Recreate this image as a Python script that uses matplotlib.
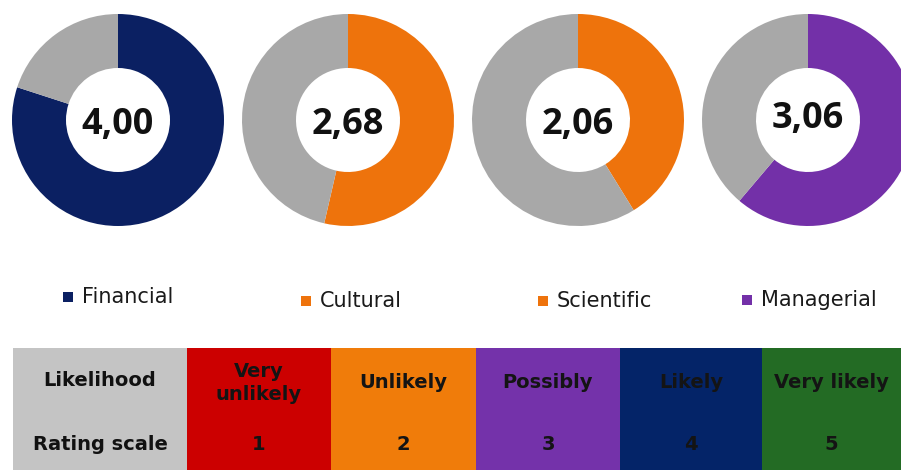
import matplotlib.pyplot as plt
from matplotlib.patches import Rectangle

# datos
categorias = ['Financial', 'Cultural', 'Scientific', 'Managerial']
puntuaciones = [4.00, 2.68, 2.06, 3.06]
escala_max = 5
colores = ['#0B2062', '#EE730C', '#EE730C', '#7330A8']
gris = '#A8A8A8'

likelihood = ['Very\nunlikely', 'Unlikely', 'Possibly', 'Likely', 'Very likely']
rating = [1, 2, 3, 4, 5]
colores_tabla = ['#CC0000', '#F07C0A', '#7432AA', '#042468', '#236B24']

W, H = 901, 470
fig = plt.figure(figsize=(W / 100, H / 100), dpi=100)
ax = fig.add_axes([0, 0, 1, 1])

# donuts
centros_x = [118, 348, 578, 808]
centros_txt = [125, 125, 125, 119]
for cx, ty, v, c in zip(centros_x, centros_txt, puntuaciones, colores):
    ax.pie([v, escala_max - v], colors=[c, gris], startangle=90, counterclock=False,
           radius=106, center=(cx, H - 120),
           wedgeprops=dict(width=54, edgecolor='none', linewidth=0))
    ax.text(cx, H - ty, f'{v:.2f}'.replace('.', ','), ha='center', va='center',
            fontsize=26, fontweight='bold', family='Open Sans', color='#111111')

# leyenda
ley_x = [63, 301, 538, 742]
ley_y = [297, 301, 301, 300]
for x, y, nombre, c in zip(ley_x, ley_y, categorias, colores):
    ax.add_patch(Rectangle((x, H - y - 5), 10, 10, color=c, lw=0))
    ax.text(x + 19, H - y, nombre, ha='left', va='center', fontsize=15,
            family='DejaVu Sans', color='#1a1a1a')

# tabla
top, bottom = 348, 470
bordes = [13, 187, 331, 476, 620, 762, 901]
ax.add_patch(Rectangle((bordes[0], H - bottom), bordes[1] - bordes[0], bottom - top,
                       color='#C4C4C4', lw=0))
ax.text((bordes[0] + bordes[1]) / 2, H - 380, 'Likelihood', ha='center', va='center',
        fontsize=14, fontweight='bold', family='DejaVu Sans', color='#111111')
ax.text((bordes[0] + bordes[1]) / 2, H - 445, 'Rating scale', ha='center', va='center',
        fontsize=14, fontweight='bold', family='DejaVu Sans', color='#111111')
for i, (lab, r, c) in enumerate(zip(likelihood, rating, colores_tabla)):
    x0, x1 = bordes[i + 1], bordes[i + 2]
    ax.add_patch(Rectangle((x0, H - bottom), x1 - x0, bottom - top, color=c, lw=0))
    ax.text((x0 + x1) / 2, H - 383, lab, ha='center', va='center', fontsize=14,
            fontweight='bold', family='DejaVu Sans', color='#141414', linespacing=1.25)
    ax.text((x0 + x1) / 2, H - 445, str(r), ha='center', va='center', fontsize=14,
            fontweight='bold', family='DejaVu Sans', color='#141414')

ax.set_xlim(0, W)
ax.set_ylim(0, H)
ax.set_aspect('auto')
ax.axis('off')

plt.savefig('out.png', dpi=100)
